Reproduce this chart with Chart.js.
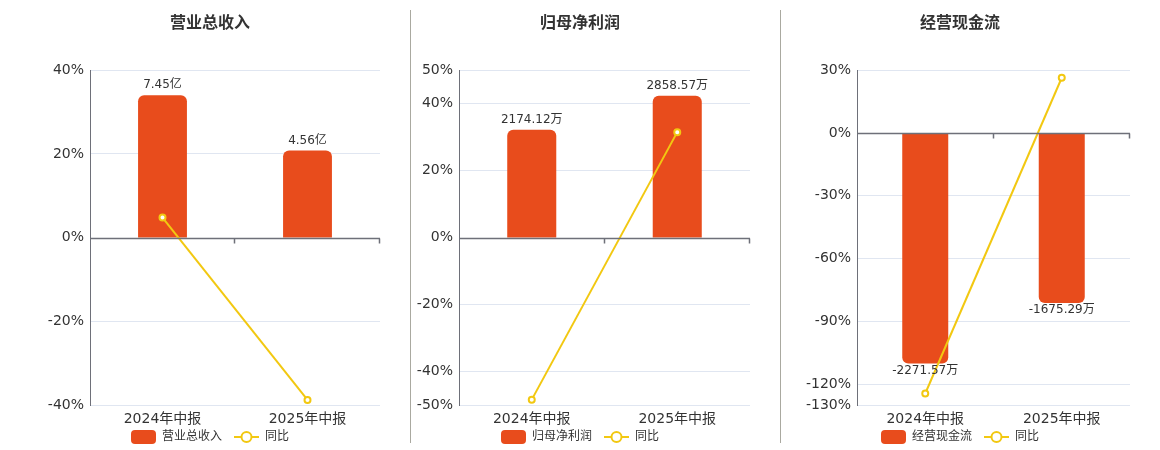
<!DOCTYPE html>
<html>
<head>
<meta charset="utf-8">
<script src="https://cdn.jsdelivr.net/npm/chart.js@4.4.1/dist/chart.umd.min.js"></script>
<style>
  html, body { margin: 0; padding: 0; background: #fff; }
  #wrap { position: relative; width: 1160px; height: 450px; overflow: hidden; }
  .panel { position: absolute; top: 0; height: 450px; }
  .sep { position: absolute; top: 10px; height: 433px; width: 1px; background: #aaa9a0; }
</style>
</head>
<body>
<div id="wrap">
  <div class="panel" style="left:0;width:420px"><canvas id="c1"></canvas></div>
  <div class="panel" style="left:400px;width:360px"><canvas id="c2"></canvas></div>
  <div class="panel" style="left:780px;width:360px"><canvas id="c3"></canvas></div>
  <div class="sep" style="left:410px"></div>
  <div class="sep" style="left:780px"></div>
</div>
<script>
// ── Data ─────────────────────────────────────────────────────────────
const periods = ['2024年中报', '2025年中报'];

const revenue    = [7.45, 4.56];          // 亿
const revenueYoY = [4.8, -38.8];          // %
const revenueTicks = [-40, -20, 0, 20, 40];

const profit    = [2174.12, 2858.57];     // 万
const profitYoY = [-48.4, 31.5];
const profitTicks = [-50, -40, -20, 0, 20, 40, 50];

const cashflow    = [-2271.57, -1675.29]; // 万
const cashflowYoY = [-124.5, 26.4];
const cashflowTicks = [-130, -120, -90, -60, -30, 0, 30];

// ── Styles ───────────────────────────────────────────────────────────
const BAR = '#e84c1c', LINE = '#f2c811', TXT = '#333', AXIS = '#6e7079', GRID = '#e0e6f1';
const FONT = '"DejaVu Sans", "Noto Sans CJK SC", sans-serif';

function legendIcon(kind) {
  const c = document.createElement('canvas');
  c.width = 25; c.height = 14;
  const g = c.getContext('2d');
  if (kind === 'bar') {
    g.fillStyle = BAR;
    g.beginPath(); g.roundRect(0, 0, 25, 14, 4); g.fill();
  } else {
    g.strokeStyle = LINE; g.lineWidth = 2;
    g.beginPath(); g.moveTo(0, 7); g.lineTo(25, 7); g.stroke();
    g.fillStyle = '#fff';
    g.beginPath(); g.arc(12.5, 7, 5, 0, Math.PI * 2); g.fill(); g.stroke();
  }
  return c;
}
const barIcon = legendIcon('bar'), lineIcon = legendIcon('line');

// zero line with tick marks, plus value labels on bars
const zeroAxis = {
  id: 'zeroAxis',
  afterDatasetsDraw(chart) {
    const { ctx, chartArea: a, scales: { x, y } } = chart;
    const y0 = Math.round(y.getPixelForValue(0)) + 0.5;
    ctx.save();
    ctx.strokeStyle = AXIS; ctx.lineWidth = 1.5;
    ctx.beginPath(); ctx.moveTo(a.left, y0); ctx.lineTo(a.right, y0);
    const step = (a.right - a.left) / x.ticks.length;
    for (let i = 1; i <= x.ticks.length; i++) {
      const px = Math.round(a.left + step * i) - 0.5;
      ctx.moveTo(px, y0); ctx.lineTo(px, y0 + 5);
    }
    ctx.stroke();
    // bar labels
    const meta = chart.getDatasetMeta(0);
    const ds = chart.data.datasets[0];
    ctx.fillStyle = TXT; ctx.font = '12px ' + FONT; ctx.textAlign = 'center';
    meta.data.forEach((bar, i) => {
      const v = ds.data[i];
      const txt = v.toFixed(2) + ds.unit;
      if (v >= 0) { ctx.textBaseline = 'bottom'; ctx.fillText(txt, bar.x, bar.y - 4); }
      else        { ctx.textBaseline = 'top';    ctx.fillText(txt, bar.x, bar.y + 1); }
    });
    ctx.restore();
  }
};

function build(id, title, barLabel, unit, bars, yoy, ticks, barRange, leftW, rightW) {
  return new Chart(document.getElementById(id), {
    type: 'bar',
    data: {
      labels: periods,
      datasets: [
        { label: barLabel, data: bars, unit, yAxisID: 'y2', backgroundColor: BAR,
          borderRadius: 6, barPercentage: 0.337, categoryPercentage: 1, order: 2 },
        { label: '同比', type: 'line', data: yoy, yAxisID: 'y', borderColor: LINE, borderWidth: 2,
          pointRadius: 3, pointBorderWidth: 2, pointBackgroundColor: '#fff', pointBorderColor: LINE, order: 1 },
      ],
    },
    options: {
      responsive: true, maintainAspectRatio: false, animation: false,
      layout: { padding: { left: 0, right: 0, top: 0, bottom: -3 } },
      plugins: {
        title: { display: true, text: title, color: TXT, font: { family: FONT, size: 16, weight: 'bold' },
          padding: { top: 14, bottom: 37 } },
        legend: { position: 'bottom',
          labels: { usePointStyle: true, pointStyleWidth: 25, color: TXT, padding: 12,
            font: { family: FONT, size: 12 },
            generateLabels: ch => ch.data.datasets.map((d, i) => ({
              text: d.label, pointStyle: i === 0 ? barIcon : lineIcon, datasetIndex: i,
              fontColor: TXT, lineWidth: 0, strokeStyle: 'transparent', fillStyle: 'transparent' })) } },
        tooltip: { enabled: false },
      },
      scales: {
        x: { grid: { display: false, drawTicks: false }, border: { display: false },
          // labels hang below the box into the legend gap, so no clipping
          afterFit: s => { s.height = 14; s._computeLabelArea = () => undefined; },
          ticks: { color: TXT, padding: 6, font: { family: FONT, size: 14 } } },
        y: { min: ticks[0], max: ticks[ticks.length - 1], position: 'left',
          afterBuildTicks: s => { s.ticks = ticks.map(v => ({ value: v })); },
          afterFit: s => { s.width = leftW; },
          grid: { color: c => c.tick.value === 0 ? 'transparent' : GRID, drawTicks: false },
          border: { color: AXIS, width: 1 },
          ticks: { color: TXT, padding: 6, font: { family: FONT, size: 14 }, callback: v => v + '%' } },
        y2: { min: barRange[0], max: barRange[1], position: 'right',
          afterFit: s => { s.width = rightW; },
          grid: { display: false }, border: { display: false }, ticks: { display: false } },
      },
    },
    plugins: [zeroAxis],
  });
}

build('c1', '营业总收入', '营业总收入', '亿', revenue, revenueYoY, revenueTicks, [-8.76, 8.76], 90, 40);
build('c2', '归母净利润', '归母净利润', '万', profit, profitYoY, profitTicks, [-3371, 3371], 59, 10);
build('c3', '经营现金流', '经营现金流', '万', cashflow, cashflowYoY, cashflowTicks, [-2680, 618], 77, 10);
</script>
</body>
</html>
